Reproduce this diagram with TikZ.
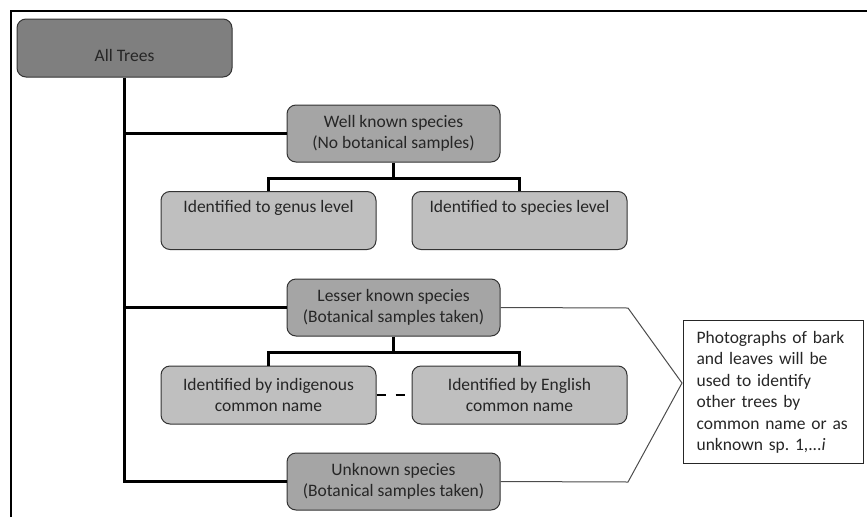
\documentclass[tikz,border=0pt]{standalone}
\usepackage{fontspec}
\setmainfont{Carlito}
\frenchspacing
\definecolor{boxdark}{HTML}{7F7F7F}
\definecolor{boxmid}{HTML}{A5A5A5}
\definecolor{boxlight}{HTML}{BFBFBF}
\definecolor{txt}{HTML}{262626}
\tikzset{
  box/.style={draw=black!80, line width=1pt, rounded corners=9pt, text=txt, align=center,
    font=\fontsize{17.5}{21.5}\selectfont, inner sep=0pt},
  topbox/.style={box, fill=boxdark, minimum width=215pt, minimum height=58pt},
  midbox/.style={box, fill=boxmid, minimum width=213pt, minimum height=57pt},
  leafbox/.style={box, fill=boxlight, minimum width=215pt, minimum height=58pt},
  trunk/.style={line width=3pt},
}
\begin{document}
\begin{tikzpicture}[x=1pt, y=-1pt]
\useasboundingbox (0,0) rectangle (867,517);
\draw[line width=2pt] (11,517) -- (11,11) -- (867,11);

\node[topbox] (all) at (124.5,48) {};
\node[text=txt, font=\fontsize{17.5}{21.5}\selectfont] (alltext) at (124.5,55) {All Trees};

\node[midbox] (well) at (393.5,133.5) {Well known species\\(No botanical samples)};
\node[leafbox] (genus) at (268.5,220.5) {Identified to genus level\\ \strut};
\node[leafbox] (spec) at (519.5,220.5) {Identified to species level\\ \strut};

\node[midbox] (lesser) at (393.5,307.5) {Lesser known species\\(Botanical samples taken)};
\node[leafbox] (indig) at (268.5,395) {Identified by indigenous\\common name};
\node[leafbox] (engl) at (519.5,395) {Identified by English\\common name};

\node[midbox] (unknown) at (393.5,481.5) {Unknown species\\(Botanical samples taken)};

\node[draw=black!85, line width=1.2pt, text=txt, anchor=north west, minimum width=180pt,
  minimum height=143pt, text width=154pt, align=left, inner sep=0pt, inner xsep=13pt,
  font=\fontsize{17.5}{21.5}\selectfont] (note) at (683,320)
  {Photographs of bark\\and leaves will be\\used to identify\\other trees by\\common name or as\\unknown sp. 1,...\textit{i}};

% tree lines
\draw[trunk] (all.south) |- (unknown.west);
\draw[trunk] (all.south |- well.west) -- (well.west);
\draw[trunk] (all.south |- lesser.west) -- (lesser.west);
\draw[trunk] (well.south) -- ++(0,16) -| (genus.north);
\draw[trunk] (well.south) ++(0,16) -| (spec.north);
\draw[trunk] (lesser.south) -- ++(0,16) -| (indig.north);
\draw[trunk] (lesser.south) ++(0,16) -| (engl.north);
\draw[line width=2.5pt, dash pattern=on 9pt off 10pt] (indig.east) -- (engl.west);

% bracket to the note
\coordinate (tip) at (682,383);
\draw[black!70, line width=1pt] (lesser.east) -- (628,308) -- (tip) -- (628,482) -- (unknown.east);
\end{tikzpicture}
\end{document}
